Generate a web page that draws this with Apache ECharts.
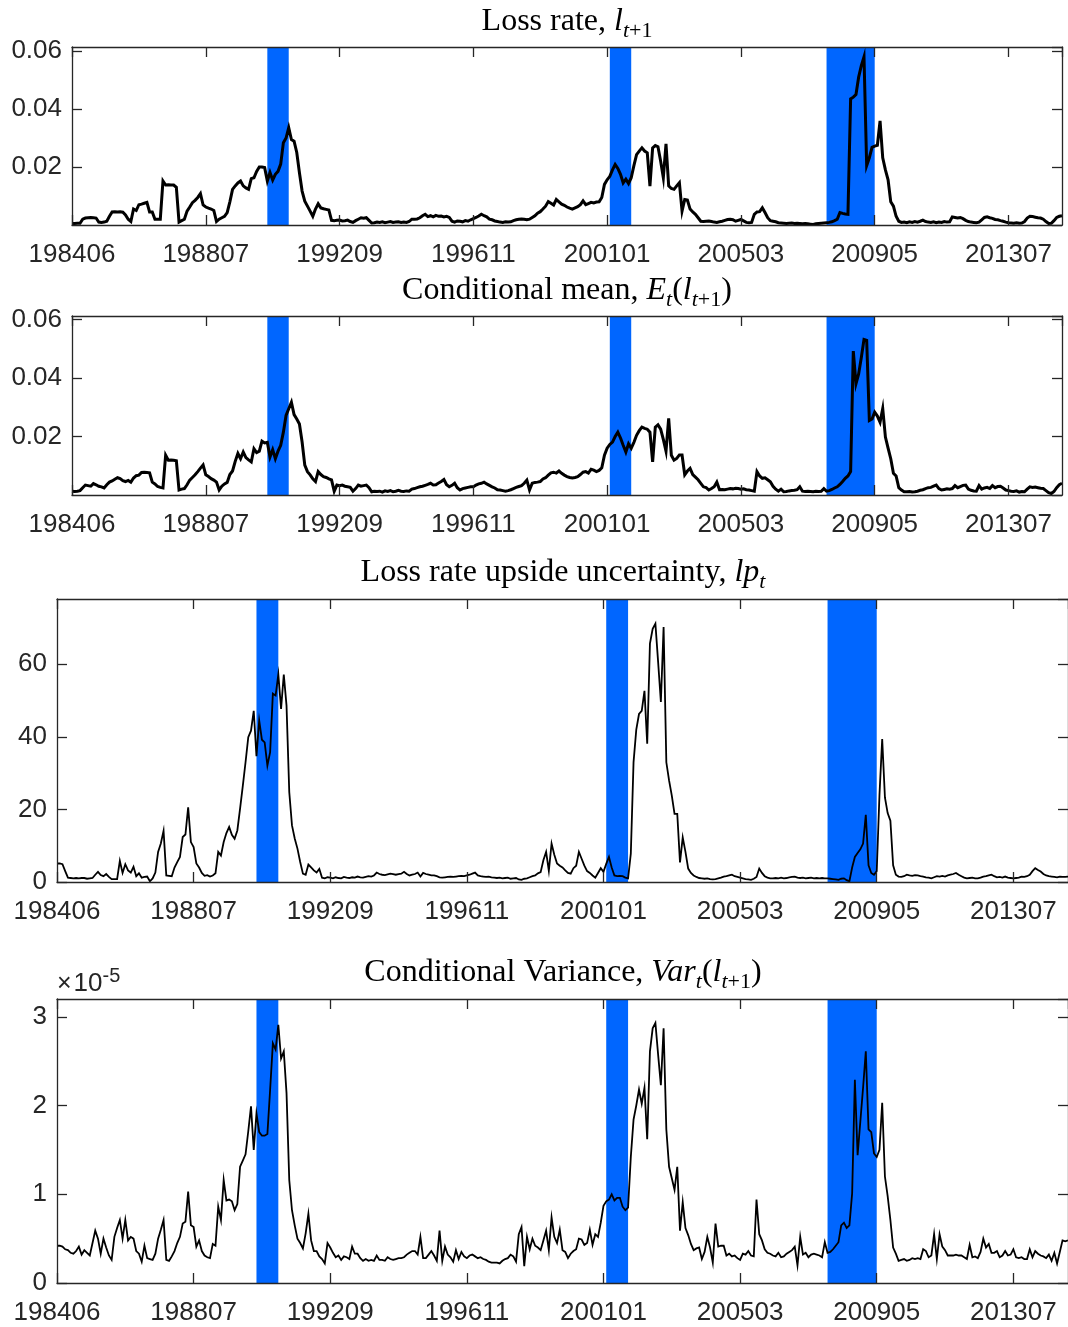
<!DOCTYPE html>
<html>
<head>
<meta charset="utf-8">
<script src="https://cdn.jsdelivr.net/npm/echarts@6/dist/echarts.min.js"></script>
<style>
  html, body { margin: 0; padding: 0; background: #fff; }
  #chart { width: 1068px; height: 1327px; }
</style>
</head>
<body>
<div id="chart"></div>
<script>
// monthly observations, index 0 = 198406; labelled tick every 50 observations
var tickLabels = ['198406', '198807', '199209', '199611', '200101', '200503', '200905', '201307'];
var tickStep = 50;
var recessions = [[73, 81], [201, 209], [282, 300]];

// loss rate l_{t+1}, in units of 1e-3
var lossRate = [
  0.5,0.5,0.6,0.6,2.0,2.4,2.5,2.6,2.5,2.4,
  1.0,0.9,1.0,1.3,3.0,4.5,4.6,4.5,4.6,4.4,
  3.5,2.0,1.2,5.5,5.0,7.0,7.2,7.5,7.8,4.5,
  4.5,2.0,2.0,2.0,15.2,13.8,13.9,13.8,13.8,13.0,
  1.0,1.5,2.0,4.8,6.2,7.7,8.5,9.5,10.8,6.9,
  6.2,5.8,5.5,5.0,1.2,2.0,2.5,3.0,4.3,8.0,
  12.3,13.5,14.5,15.2,13.5,12.8,12.3,16.0,16.3,18.5,
  20.0,20.0,19.8,15.2,18.1,15.5,17.5,18.5,21.0,28.4,
  30.0,33.6,29.5,28.9,25.0,18.0,11.7,8.2,6.5,4.8,
  3.0,5.5,7.3,5.9,5.6,5.4,5.2,1.6,1.5,1.6,
  1.7,1.4,1.5,1.7,1.2,0.9,1.5,2.0,2.5,2.3,
  2.5,1.6,0.7,0.8,1.0,0.9,1.1,0.8,1.0,1.2,
  0.9,1.0,1.1,0.9,1.0,0.9,1.2,2.0,2.0,2.1,
  2.5,3.2,3.7,2.9,3.2,2.8,3.3,3.0,3.1,2.8,
  3.0,2.6,1.3,1.0,1.4,1.3,1.1,1.5,1.3,1.8,
  2.2,2.6,3.1,3.7,3.2,2.8,2.0,1.8,1.4,1.2,
  1.0,0.9,1.1,1.0,1.1,1.5,1.8,2.0,2.1,2.0,
  1.8,2.0,2.6,3.2,4.1,4.6,5.5,6.5,8.1,7.5,
  6.9,8.8,8.0,7.2,6.8,6.2,5.8,5.5,5.9,6.3,
  7.0,8.3,7.0,7.4,7.8,7.6,7.9,8.0,9.5,14.0,
  15.6,16.8,19.0,20.9,19.5,17.5,14.5,15.8,14.3,16.3,
  20.5,24.3,25.5,26.6,25.5,24.9,13.4,26.6,27.4,27.0,
  22.0,16.3,28.0,13.5,12.6,12.3,13.5,14.6,4.8,8.8,
  8.6,5.5,4.5,3.7,2.5,1.3,1.2,1.3,1.4,1.2,
  1.0,0.9,1.1,1.3,1.6,1.9,2.0,1.8,1.3,1.6,
  1.9,1.4,0.9,0.8,0.9,3.7,4.5,4.6,5.9,4.3,
  2.5,1.5,1.3,1.1,0.8,0.7,0.6,0.5,0.6,0.7,
  0.5,0.6,0.5,0.4,0.5,0.4,0.3,0.2,0.4,0.5,
  0.6,0.7,0.8,0.9,1.1,1.5,2.0,4.3,4.0,3.8,
  3.7,43.5,44.1,45.0,51.0,55.0,58.0,20.5,23.2,26.8,
  27.2,27.5,35.9,23.2,19.0,15.6,8.0,6.5,3.0,1.3,
  0.9,1.0,0.8,1.1,0.9,1.2,1.0,1.3,1.7,1.2,
  1.0,0.9,1.1,0.8,1.0,0.9,1.2,1.0,1.1,2.8,
  2.6,2.4,2.6,2.2,1.6,1.2,1.0,0.9,0.8,1.0,
  1.8,2.6,2.8,2.5,2.3,1.9,1.8,1.5,1.3,1.0,
  0.8,0.7,0.6,0.8,0.6,0.7,1.2,2.4,3.0,2.9,
  2.7,2.5,2.4,2.0,1.2,0.5,0.6,1.5,2.6,3.0,
  3.2
];

// conditional mean E_t(l_{t+1}), in units of 1e-3
var condMean = [
  1.3,1.2,1.3,1.5,2.5,3.4,3.2,3.0,3.9,3.5,
  3.0,2.8,2.4,3.5,4.4,4.8,5.4,5.9,5.6,4.9,
  4.6,5.0,4.4,5.8,6.6,6.8,7.7,7.8,7.7,7.6,
  4.4,3.8,2.9,2.6,2.4,13.6,11.9,12.0,11.9,11.7,
  1.7,2.0,2.2,3.5,5.1,6.0,6.9,8.0,9.2,10.3,
  6.9,6.3,5.6,5.1,4.4,1.7,3.0,3.8,4.3,7.0,
  8.2,11.5,14.2,12.4,14.7,12.8,12.0,11.3,15.8,14.5,
  15.0,18.4,17.8,18.0,13.0,15.5,12.4,15.0,17.0,21.5,
  27.2,29.5,31.7,27.5,26.0,24.3,18.1,10.2,8.0,6.9,
  5.5,4.6,8.0,7.0,6.3,6.0,5.5,5.2,1.3,3.4,
  3.2,3.4,3.0,2.8,2.6,1.3,2.2,3.4,3.0,3.2,
  3.4,2.5,1.1,1.3,1.2,1.3,1.0,1.4,1.2,1.5,
  1.1,1.3,1.6,1.3,1.2,1.4,1.3,2.0,2.2,2.5,
  2.8,3.0,3.3,3.6,4.0,3.4,3.5,4.1,4.6,5.3,
  3.5,2.8,3.3,4.0,2.5,1.7,2.2,2.4,2.6,2.8,
  2.8,3.4,3.8,4.0,4.4,3.8,3.3,2.8,2.4,1.8,
  1.7,1.5,1.3,1.5,1.8,2.2,2.6,2.9,3.2,4.0,
  5.1,1.7,4.0,4.3,4.4,4.6,5.5,5.9,6.8,7.6,
  7.8,7.5,8.2,7.4,6.8,6.3,6.0,5.8,6.0,6.3,
  7.0,7.8,8.0,7.5,8.8,8.5,8.0,8.4,9.3,13.6,
  16.0,17.3,18.1,20.0,21.5,19.5,17.0,14.7,17.5,16.0,
  18.0,20.4,22.0,23.2,22.8,22.5,21.5,11.3,23.2,24.0,
  22.5,19.0,15.0,26.2,13.6,11.9,12.5,13.7,13.7,6.9,
  8.2,9.1,7.0,6.1,5.2,4.0,2.8,2.5,1.7,2.2,
  2.8,4.4,1.8,1.9,1.8,2.0,2.2,2.1,2.3,2.2,
  2.0,2.1,1.8,1.7,1.5,1.3,8.0,6.5,5.7,5.9,
  5.2,4.5,3.0,2.0,1.3,2.0,1.1,1.2,1.4,1.5,
  1.6,1.8,2.8,1.3,1.2,1.3,1.2,1.1,1.3,1.2,
  1.3,2.2,1.3,1.5,1.9,2.4,2.8,3.6,4.6,5.7,
  6.5,8.0,49.2,38.0,41.4,47.0,53.2,52.9,25.5,26.0,
  28.3,27.0,24.9,29.6,19.8,16.0,12.4,7.4,6.5,2.5,
  1.7,1.1,1.1,1.2,1.0,1.1,1.3,1.6,1.8,2.2,
  2.5,2.6,3.0,3.4,2.2,1.7,1.9,2.1,2.0,2.2,
  3.2,2.5,2.9,3.3,3.4,2.0,1.6,1.4,1.3,3.2,
  2.0,2.4,2.6,2.2,3.2,2.5,2.9,3.0,2.4,1.7,
  1.5,1.3,1.2,1.4,1.0,1.2,1.1,2.0,2.8,2.6,
  2.7,2.5,2.3,2.2,1.5,0.8,0.5,1.2,2.5,3.5,
  4.0
];

// loss rate upside uncertainty lp_t
var upside = [
  5.1,5.1,4.9,3.0,1.2,1.1,1.0,1.1,1.0,1.1,
  1.1,0.9,1.0,1.1,2.0,2.8,1.9,1.6,2.2,1.4,
  0.8,0.8,0.8,5.8,2.5,4.9,3.2,2.6,4.2,1.6,
  2.4,1.2,1.4,1.5,0.2,1.0,2.6,8.3,10.6,14.1,
  1.8,1.7,1.6,4.0,5.5,6.9,12.4,13.1,20.6,11.0,
  9.6,5.1,4.0,2.5,1.7,1.9,1.5,1.8,2.4,8.3,
  7.3,11.0,13.5,15.2,13.0,11.9,14.2,20.2,26.5,33.0,
  39.9,41.7,47.2,34.7,44.5,39.2,38.5,32.1,35.8,51.9,
  51.4,57.2,47.7,57.2,48.6,24.8,15.6,12.0,9.2,5.5,
  2.3,2.0,4.8,4.0,3.2,2.6,3.6,1.2,1.0,1.3,
  1.2,1.0,1.3,1.1,1.0,1.4,1.2,1.1,1.3,1.2,
  1.5,1.3,1.2,1.4,1.6,1.5,1.8,2.6,2.2,2.0,
  1.9,2.1,2.3,2.2,2.0,2.2,2.3,2.8,2.2,1.8,
  2.0,2.2,2.6,1.5,2.5,2.2,2.0,1.8,1.8,1.6,
  1.3,1.2,1.3,1.4,1.5,1.4,1.5,1.6,1.7,1.6,
  1.8,2.0,2.3,2.6,1.8,1.6,1.5,1.4,1.5,1.3,
  1.2,1.1,1.2,1.0,1.1,1.2,0.9,1.0,1.1,0.7,
  0.6,0.9,1.0,1.3,1.6,1.8,2.4,2.7,6.0,8.3,
  3.1,10.6,7.5,5.1,4.5,4.0,3.2,2.5,2.3,3.8,
  4.5,8.3,6.4,4.5,3.0,2.5,1.8,1.2,2.5,3.8,
  2.8,5.0,6.9,4.0,1.8,1.6,1.7,1.6,1.2,1.0,
  7.8,33.0,42.0,46.3,47.2,52.7,38.1,65.7,69.8,71.2,
  60.6,49.6,70.3,33.0,28.0,23.8,18.8,18.8,5.4,12.3,
  8.3,3.7,2.5,1.8,1.4,1.1,1.0,0.9,1.0,0.8,
  0.7,0.8,1.0,1.2,1.5,1.6,1.8,2.0,1.6,1.4,
  1.2,1.0,0.8,0.7,0.6,0.9,1.4,3.7,2.5,1.6,
  1.2,1.0,1.0,1.1,1.0,1.2,1.0,1.1,1.3,1.4,
  1.5,1.2,1.1,1.2,1.0,1.1,1.2,1.0,1.1,1.0,
  1.1,1.0,1.0,0.9,0.8,0.7,0.6,0.9,1.0,0.5,
  0.2,4.0,6.9,8.0,9.0,10.6,18.5,4.6,2.5,2.0,
  3.0,24.0,39.4,23.3,19.0,16.9,4.6,2.0,1.5,1.4,
  1.6,2.0,1.8,1.7,1.9,1.8,1.6,1.5,1.3,1.2,
  1.0,1.3,1.6,1.5,1.7,1.5,1.8,2.0,2.2,2.5,
  2.0,1.6,1.2,1.0,1.1,1.2,1.0,1.0,1.2,1.5,
  1.6,1.8,2.0,1.6,1.3,1.4,1.2,1.5,1.2,1.1,
  1.0,1.1,1.2,1.5,1.4,1.6,2.0,3.0,3.8,3.3,
  2.9,2.2,1.8,1.6,1.5,1.4,1.3,1.5,1.4,1.4,
  1.5
];

// conditional variance Var_t(l_{t+1}), in units of 1e-5
var condVar = [
  0.42,0.42,0.41,0.38,0.37,0.34,0.33,0.36,0.41,0.32,
  0.37,0.34,0.31,0.45,0.59,0.50,0.33,0.50,0.40,0.31,
  0.26,0.52,0.62,0.71,0.50,0.71,0.48,0.52,0.50,0.36,
  0.33,0.24,0.42,0.28,0.27,0.26,0.33,0.50,0.60,0.71,
  0.26,0.25,0.30,0.36,0.45,0.52,0.67,0.69,1.03,0.65,
  0.63,0.41,0.48,0.36,0.31,0.29,0.28,0.44,0.42,0.86,
  0.71,1.16,0.93,0.94,0.92,0.82,0.89,1.31,1.38,1.45,
  1.71,1.99,1.50,1.91,1.70,1.66,1.66,1.68,2.18,2.70,
  2.63,2.91,2.53,2.61,2.14,1.16,0.82,0.65,0.50,0.45,
  0.39,0.56,0.78,0.48,0.36,0.36,0.30,0.27,0.22,0.45,
  0.40,0.34,0.29,0.31,0.26,0.30,0.29,0.27,0.41,0.33,
  0.33,0.28,0.25,0.27,0.25,0.26,0.25,0.31,0.26,0.26,
  0.25,0.29,0.27,0.26,0.27,0.28,0.28,0.29,0.32,0.34,
  0.36,0.36,0.32,0.52,0.28,0.28,0.32,0.36,0.31,0.25,
  0.59,0.25,0.41,0.32,0.29,0.24,0.37,0.27,0.35,0.30,
  0.28,0.31,0.32,0.30,0.28,0.29,0.27,0.26,0.24,0.23,
  0.23,0.23,0.22,0.25,0.27,0.28,0.32,0.30,0.24,0.55,
  0.63,0.19,0.52,0.38,0.50,0.42,0.40,0.37,0.48,0.59,
  0.37,0.74,0.52,0.45,0.60,0.37,0.35,0.28,0.33,0.36,
  0.38,0.50,0.49,0.43,0.45,0.60,0.43,0.55,0.52,0.68,
  0.87,0.92,0.94,1.00,0.93,0.96,0.96,0.86,0.82,0.85,
  1.42,1.84,2.00,2.18,2.02,2.20,1.62,2.61,2.87,2.93,
  2.57,2.23,2.87,1.73,1.31,1.18,1.05,1.31,0.59,0.91,
  0.62,0.54,0.44,0.37,0.39,0.40,0.27,0.35,0.52,0.40,
  0.23,0.67,0.41,0.42,0.42,0.31,0.33,0.30,0.31,0.28,
  0.26,0.33,0.32,0.36,0.31,0.30,0.94,0.55,0.48,0.38,
  0.34,0.33,0.31,0.30,0.34,0.29,0.30,0.33,0.35,0.37,
  0.41,0.20,0.52,0.32,0.34,0.29,0.32,0.33,0.32,0.31,
  0.29,0.46,0.34,0.35,0.38,0.42,0.46,0.65,0.68,0.62,
  0.65,1.01,2.29,1.44,1.82,2.20,2.61,1.73,1.70,1.46,
  1.42,1.50,2.03,1.20,0.98,0.71,0.40,0.33,0.25,0.26,
  0.27,0.25,0.26,0.28,0.27,0.28,0.27,0.38,0.36,0.29,
  0.31,0.55,0.27,0.55,0.41,0.37,0.31,0.31,0.31,0.32,
  0.31,0.31,0.29,0.27,0.43,0.29,0.30,0.28,0.35,0.50,
  0.40,0.44,0.34,0.34,0.36,0.29,0.31,0.36,0.31,0.32,
  0.38,0.29,0.28,0.29,0.27,0.27,0.38,0.29,0.36,0.33,
  0.31,0.30,0.28,0.32,0.25,0.34,0.22,0.35,0.48,0.47,
  0.48
];

var chart = echarts.init(document.getElementById('chart'));

var INK = '#262626';
var SANS = '"Liberation Sans", Arial, Helvetica, sans-serif';
var SERIF = '"Liberation Serif", "Times New Roman", serif';
var lastIdx = lossRate.length - 1;

var panels = [
    {grid: {left: 72, top: 47, width: 990, height: 178}, data: lossRate, max: 61.4, step: 20,
     fmt: function (v) { return (v / 1000).toFixed(2); }, showZero: false, width: 3},
    {grid: {left: 72, top: 316, width: 990, height: 179}, data: condMean, max: 61.2, step: 20,
     fmt: function (v) { return (v / 1000).toFixed(2); }, showZero: false, width: 3},
    {grid: {left: 57, top: 599, width: 1013, height: 283}, data: upside, max: 78, step: 20,
     fmt: function (v) { return String(v); }, showZero: true, width: 1.8},
    {grid: {left: 57, top: 999, width: 1013, height: 284}, data: condVar, max: 3.2, step: 1,
     fmt: function (v) { return String(v); }, showZero: true, width: 1.8}
];

function axisLine() {
    return {show: true, onZero: false, lineStyle: {color: INK, width: 1.3}};
}
function axisTick() {
    return {show: true, inside: true, length: 10, lineStyle: {color: INK, width: 1.3}};
}

var grids = [], xAxes = [], yAxes = [], series = [];
panels.forEach(function (p, g) {
    grids.push(p.grid);
    xAxes.push({
        type: 'value', gridIndex: g, position: 'bottom', min: 0, max: lastIdx, interval: tickStep,
        axisLine: axisLine(), axisTick: axisTick(), splitLine: {show: false}, z: 5,
        axisLabel: {
            color: INK, fontSize: 26, fontFamily: SANS, margin: 17, showMaxLabel: false,
            formatter: function (v) { return v % tickStep === 0 ? tickLabels[v / tickStep] : ''; }
        }
    });
    xAxes.push({
        type: 'value', gridIndex: g, position: 'top', min: 0, max: lastIdx, interval: tickStep,
        axisLine: axisLine(), axisTick: axisTick(), splitLine: {show: false}, axisLabel: {show: false}, z: 5
    });
    yAxes.push({
        type: 'value', gridIndex: g, position: 'left', min: 0, max: p.max, interval: p.step,
        axisLine: axisLine(), axisTick: axisTick(), splitLine: {show: false}, z: 5,
        axisLabel: {
            color: INK, fontSize: 26, fontFamily: SANS, margin: 10,
            showMinLabel: p.showZero, showMaxLabel: false, formatter: p.fmt
        }
    });
    yAxes.push({
        type: 'value', gridIndex: g, position: 'right', min: 0, max: p.max, interval: p.step,
        axisLine: axisLine(), axisTick: axisTick(), splitLine: {show: false}, axisLabel: {show: false}, z: 5
    });
    series.push({
        type: 'line', xAxisIndex: 2 * g, yAxisIndex: 2 * g,
        data: p.data.map(function (v, i) { return [i, v]; }),
        showSymbol: false, silent: true,
        lineStyle: {color: '#000', width: p.width, join: 'miter'},
        markArea: {
            silent: true,
            itemStyle: {color: '#0066ff', opacity: 1},
            data: recessions.map(function (r) { return [{xAxis: r[0]}, {xAxis: r[1]}]; })
        }
    });
});

var rich = {
    r: {fontFamily: SERIF, fontSize: 32, fill: '#000', lineHeight: 40, verticalAlign: 'middle'},
    i: {fontFamily: SERIF, fontSize: 32, fontStyle: 'italic', fill: '#000', lineHeight: 40, verticalAlign: 'middle'},
    si: {fontFamily: SERIF, fontSize: 22, fontStyle: 'italic', fill: '#000', lineHeight: 22, verticalAlign: 'bottom'},
    s: {fontFamily: SERIF, fontSize: 22, fill: '#000', lineHeight: 22, verticalAlign: 'bottom'}
};

function title(text, x, y) {
    return {type: 'text', x: x, y: y, silent: true,
            style: {text: text, rich: rich, align: 'center', verticalAlign: 'middle'}};
}

chart.setOption({
    animation: false,
    backgroundColor: '#fff',
    grid: grids,
    xAxis: xAxes,
    yAxis: yAxes,
    series: series,
    graphic: [
        title('{r|Loss rate, }{i|l}{si|t}{s|+1}', 567, 22),
        title('{r|Conditional mean, }{i|E}{si|t}{r|(}{i|l}{si|t}{s|+1}{r|)}', 567, 291),
        title('{r|Loss rate upside uncertainty, }{i|lp}{si|t}', 563, 573),
        title('{r|Conditional Variance, }{i|Var}{si|t}{r|(}{i|l}{si|t}{s|+1}{r|)}', 563, 973),
        {type: 'text', x: 57, y: 984, silent: true,
         style: {
             text: '{a|×}{b|10}{p|-5}', align: 'left', verticalAlign: 'middle',
             rich: {
                 a: {fontFamily: SANS, fontSize: 25, fill: INK, lineHeight: 36, verticalAlign: 'middle', padding: [0, 2, 0, 0]},
                 b: {fontFamily: SANS, fontSize: 26, fill: INK, lineHeight: 36, verticalAlign: 'middle'},
                 p: {fontFamily: SANS, fontSize: 20, fill: INK, lineHeight: 20, verticalAlign: 'top'}
             }
         }}
    ]
});
</script>
</body>
</html>
